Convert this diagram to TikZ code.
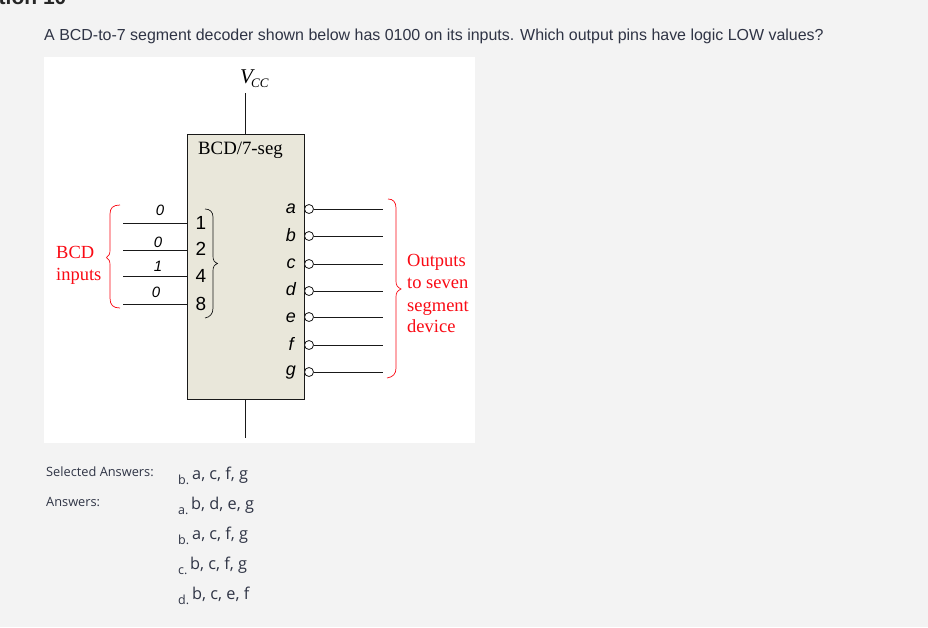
\documentclass[tikz,border=0pt]{standalone}
\usepackage{fontspec}
\setmainfont{Liberation Serif}
\setsansfont{Liberation Sans}
\newfontfamily\osans{Open Sans}
\definecolor{pagebg}{HTML}{F3F3F3}
\definecolor{chipfill}{HTML}{E9E7DA}
\definecolor{inkblue}{HTML}{2F3445}
\definecolor{labelred}{HTML}{FA0A14}
\tikzset{
  wire/.style={draw=black!90,line width=0.9pt},
  bub/.style={circle,draw=black!90,fill=white,line width=0.8pt,minimum size=9pt,inner sep=0pt},
  txt/.style={inner sep=0pt,anchor=base west},
  ctr/.style={inner sep=0pt,anchor=base},
  redtxt/.style={txt,text=labelred,font=\fontsize{18.5}{18.5}\selectfont},
  pin/.style={ctr,font=\sffamily\fontsize{19}{19}\selectfont},
  seg/.style={ctr,font=\sffamily\itshape\fontsize{18}{18}\selectfont},
  val/.style={ctr,font=\sffamily\itshape\fontsize{15}{15}\selectfont},
  ans/.style={txt,text=inkblue,font=\osans\fontsize{16.3}{16.3}\selectfont},
  ansl/.style={txt,text=inkblue,font=\osans\fontsize{12.5}{12.5}\selectfont},
  redbrace/.style={draw=labelred,line width=0.7pt},
  blkbrace/.style={draw=black!90,line width=0.7pt},
}
\begin{document}
\begin{tikzpicture}[x=1pt,y=-1pt]
\useasboundingbox (0,0) rectangle (928,627);
\fill[pagebg] (0,0) rectangle (928,627);
\begin{scope}
\clip (0,0) rectangle (928,627);
\node[txt,font=\sffamily\bfseries\fontsize{21}{21}\selectfont,text=black!85] (qhead) at (-54,4) {Question 10};
\end{scope}
\node[txt,text=inkblue,font=\sffamily\fontsize{15.96}{15.96}\selectfont] (title) at (44,40) {A BCD-to-7 segment decoder shown below has 0100 on its inputs. Which output pins have logic LOW values?};
\fill[white] (44,57) rectangle (475,443);
% chip
\node[draw=black!90,fill=chipfill,line width=0.9pt,minimum width=117pt,minimum height=265pt,inner sep=0pt] (chip) at (245.5,266.5) {};
\node[txt,font=\fontsize{18.8}{18.8}\selectfont] (chipname) at (198,154) {BCD/7-seg};
\node[txt,font=\itshape\fontsize{21}{21}\selectfont] (vcc) at (240,83) {V};
\node[txt,font=\itshape\fontsize{13}{13}\selectfont] (vccsub) at (251,87) {CC};
\coordinate (vtop) at (245.5,93);
\coordinate (vbot) at (245.5,438);
\draw[wire] (vtop) -- (vtop |- chip.north);
\draw[wire] (vbot |- chip.south) -- (vbot);
% inputs
\foreach \n/\y/\v/\vx/\vy/\p/\py in {1/223/0/160/215/1/229,2/250/0/158/247/2/255,3/276/1/158/271/4/282,4/304/0/156/297/8/310}{
  \coordinate (in\n) at (123,\y);
  \draw[wire] (in\n) -- (in\n -| chip.west);
  \node[val] (v\n) at (\vx,\vy) {\v};
  \node[pin] (p\n) at (201,\py) {\p};
}
% outputs
\foreach \n/\y/\l/\ly in {a/209/a/213,b/236/b/241,c/264/c/268,d/291/d/295,e/317/e/322,f/345/f/350,g/372/g/375}{
  \node[bub] (b\n) at (309,\y) {};
  \coordinate (o\n) at (383,\y);
  \draw[wire] (b\n) -- (o\n);
  \node[seg] (s\n) at (291,\ly) {\l};
}
% braces
\draw[redbrace] (120,205) .. controls (113,205) and (110,208) .. (110,214) -- (110,250) .. controls (110,254) and (109,256) .. (106.5,257.5) .. controls (109,259) and (110,261) .. (110,265) -- (110,298) .. controls (110,305) and (113,308) .. (120,308);
\draw[blkbrace] (205,209) .. controls (210,209) and (213,212) .. (213,217) -- (213,256) .. controls (213,260) and (214,262) .. (217.5,263.5) .. controls (214,265) and (213,267) .. (213,271) -- (213,308) .. controls (213,314) and (210,317) .. (205,318);
\draw[redbrace] (388,199) .. controls (393,199) and (396,202) .. (396,208) -- (396,281) .. controls (396,285) and (397,287) .. (401,289) .. controls (397,291) and (396,293) .. (396,297) -- (396,368) .. controls (396,374) and (393,377) .. (387,378);
% red labels
\node[redtxt] (bcd) at (56,258) {BCD};
\node[redtxt] (inp) at (56,280) {inputs};
\node[redtxt] (o1) at (407,266) {Outputs};
\node[redtxt] (o2) at (407,288) {to seven};
\node[redtxt] (o3) at (407,311) {segment};
\node[redtxt] (o4) at (407,332) {device};
% answers
\node[txt,text=inkblue,font=\osans\fontsize{12.8}{12.8}\selectfont] (sel) at (46,476) {Selected Answers:};
\node[txt,text=inkblue,font=\osans\fontsize{12.8}{12.8}\selectfont] (ansh) at (46,506) {Answers:};
\foreach \n/\l/\lx/\ly/\t/\tx/\ty in {0/b./178/484/{a, c, f, g}/192/479,1/a./178/514/{b, d, e, g}/191/509,2/b./178/544/{a, c, f, g}/192/539,3/c./178/574/{b, c, f, g}/190/569,4/d./178/604/{b, c, e, f}/192/599}{
  \node[ansl] (al\n) at (\lx,\ly) {\l};
  \node[ans] (at\n) at (\tx,\ty) {\t};
}
\end{tikzpicture}
\end{document}
